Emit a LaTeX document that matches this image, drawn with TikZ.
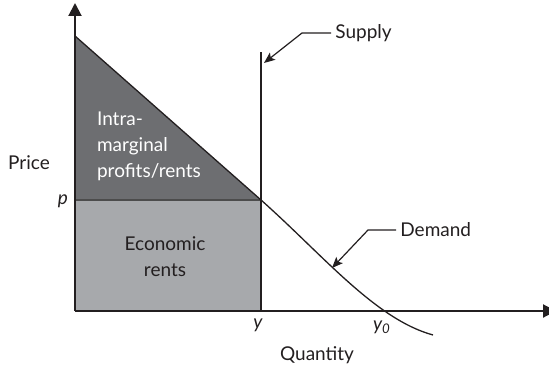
\documentclass[tikz,border=0pt]{standalone}
\usepackage{fontspec}
\setmainfont{Lato}
\usepackage{xcolor}
\usetikzlibrary{arrows.meta,calc}
\definecolor{rentdark}{HTML}{6D6E71}
\definecolor{rentlight}{HTML}{A7A9AC}
\definecolor{inkline}{HTML}{231F20}

\begin{document}
\begin{tikzpicture}[x=0.5pt,y=0.5pt,
    axis/.style={line width=1pt, draw=inkline, -{Triangle[length=6.5pt,width=6.5pt]}},
    curve/.style={line width=0.65pt, draw=inkline},
    leader/.style={line width=0.6pt, draw=inkline, -{Stealth[length=5.5pt,width=4.5pt,inset=1.2pt]}},
    lab/.style={font=\fontsize{9.5}{13}\selectfont, text=inkline}]
    \useasboundingbox (-75,-58) rectangle (474,311);
    % shaded areas
    \fill[rentlight] (0,0) rectangle (186,111);
    \fill[rentdark] (0,275) -- (186,111) -- (0,111) -- cycle;
    \draw[curve, draw=black!70] (0,111) -- (186,111);
    % axes
    \coordinate (O) at (0,0);
    \draw[axis] (O) -- (0,308);
    \draw[axis] (O) -- (481,0);
    % supply and demand
    \coordinate (E) at (186,111);
    \draw[curve] (186,0) -- (186,259);
    \draw[curve] (0,275) -- (E) .. controls (248,56) and (300,-8) .. (358,-24);
    % labels
    \node[lab] (price) at (-46,148) {Price};
    \node[lab] (pval) at (-12,110) {\itshape p};
    \node[lab] (yval) at (183,-14) {\itshape y};
    \node[lab] (yzero) at (307,-16) {\itshape y\textsubscript{0}};
    \node[lab] (qty) at (242,-44) {Quantity};
    \node[lab, text=white, anchor=west, align=left] (intra) at (15,165) {Intra-\\marginal\\profits/rents};
    \node[lab, align=center] (econ) at (90,54) {Economic\\rents};
    % leaders
    \node[lab, anchor=west, inner sep=2pt] (supply) at (256,278) {Supply};
    \coordinate (stip) at (189,248);
    \draw[leader] (supply.west) -- ++(-29,0) -- (stip);
    \node[lab, anchor=west, inner sep=2pt] (demand) at (321,81) {Demand};
    \coordinate (dtip) at (257,43);
    \draw[leader] (demand.west) -- ++(-28,0) -- (dtip);
\end{tikzpicture}
\end{document}
